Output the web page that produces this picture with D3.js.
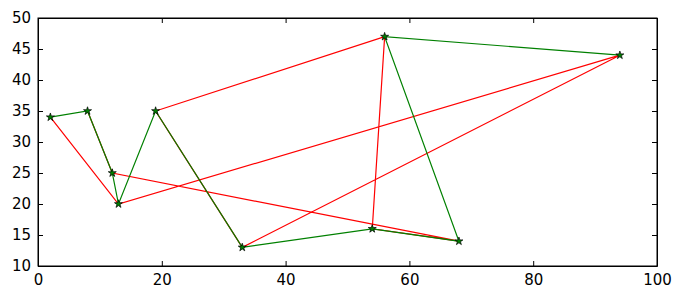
<!DOCTYPE html>
<html>
<head>
<meta charset="utf-8">
<script src="https://cdn.jsdelivr.net/npm/d3@7"></script>
<style>
	body { margin: 0; background: #fff; }
	text { font-family: "DejaVu Sans", sans-serif; font-size: 15px; fill: #000; }
</style>
</head>
<body>
<script>
'use strict';

// Points visited, in order, by each route.
const greenX = [2, 8, 12, 13, 19, 33, 54, 68, 56, 94];
const greenY = [34, 35, 25, 20, 35, 13, 16, 14, 47, 44];
const redX = [2, 13, 94, 33, 19, 56, 54, 68, 12, 8];
const redY = [34, 20, 44, 13, 35, 47, 16, 14, 25, 35];

const xTicks = [0, 20, 40, 60, 80, 100];
const yTicks = [10, 15, 20, 25, 30, 35, 40, 45, 50];

const width = 682, height = 300;
const margin = { left: 38, right: 25, top: 18, bottom: 34 };

let svg = d3.select("body").append("svg")
	.attr("width", width)
	.attr("height", height);

let x = d3.scaleLinear().domain([0, 100]).range([margin.left, width - margin.right]);
let y = d3.scaleLinear().domain([10, 50]).range([height - margin.bottom, margin.top]);

// Axes, with ticks pointing inward on all four sides.
svg.append("g")
	.attr("transform", "translate(0," + y(10) + ")")
	.call(d3.axisBottom(x).tickValues(xTicks).tickSizeInner(-5).tickSizeOuter(0).tickPadding(8));
svg.append("g")
	.attr("transform", "translate(0," + y(50) + ")")
	.call(d3.axisTop(x).tickValues(xTicks).tickSizeInner(-5).tickSizeOuter(0).tickFormat(""));
svg.append("g")
	.attr("transform", "translate(" + x(0) + ",0)")
	.call(d3.axisLeft(y).tickValues(yTicks).tickSizeInner(-5).tickSizeOuter(0).tickPadding(7));
svg.append("g")
	.attr("transform", "translate(" + x(100) + ",0)")
	.call(d3.axisRight(y).tickValues(yTicks).tickSizeInner(-5).tickSizeOuter(0).tickFormat(""));

svg.selectAll(".domain").attr("stroke", "#000").attr("stroke-width", 1);
svg.selectAll(".tick line").attr("stroke", "#000");
svg.selectAll(".tick text").style("font-size", "15px").attr("fill", "#000");

svg.append("rect")
	.attr("x", x(0)).attr("y", y(50))
	.attr("width", x(100) - x(0)).attr("height", y(10) - y(50))
	.attr("fill", "none").attr("stroke", "#000");

let line = d3.line().x(d => x(d[0])).y(d => y(d[1]));

let redPts = redX.map((v, i) => [v, redY[i]]);
let greenPts = greenX.map((v, i) => [v, greenY[i]]);

svg.append("path")
	.attr("d", line(redPts))
	.attr("fill", "none")
	.attr("stroke", "#ff0000")
	.attr("stroke-width", 1.2);

svg.append("path")
	.attr("d", line(greenPts))
	.attr("fill", "none")
	.attr("stroke", "#008000")
	.attr("stroke-width", 1.2);

let star = d3.symbol().type(d3.symbolStar).size(20);
svg.selectAll(".marker")
	.data(greenPts)
	.enter()
	.append("path")
	.attr("class", "marker")
	.attr("d", star)
	.attr("transform", d => "translate(" + x(d[0]) + "," + y(d[1]) + ")")
	.attr("fill", "#008000")
	.attr("stroke", "#000")
	.attr("stroke-width", 0.7);
</script>
</body>
</html>
